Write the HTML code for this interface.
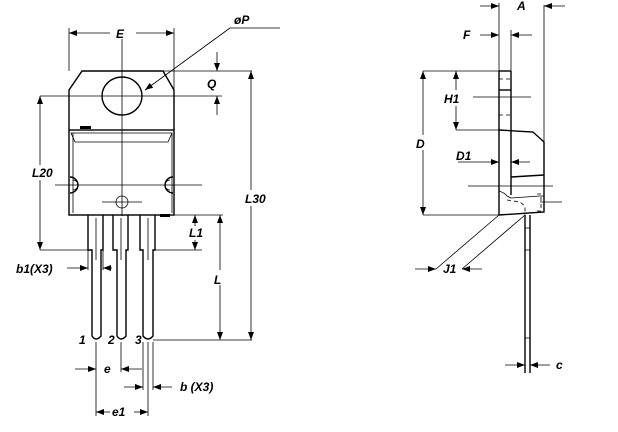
<!DOCTYPE html>
<html><head><meta charset="utf-8"><style>
html,body{margin:0;padding:0;background:#fff;}
svg{display:block;}
text{font-family:"Liberation Sans",sans-serif;font-style:italic;font-weight:bold;font-size:12px;fill:#000;}
.o{stroke:#000;stroke-width:1.4;fill:none;}
.d{stroke:#000;stroke-width:0.8;fill:none;}
.h{stroke:#000;stroke-width:0.8;fill:none;stroke-dasharray:4,3;}
</style></head><body>
<svg width="618" height="432" viewBox="0 0 618 432" xmlns="http://www.w3.org/2000/svg">
<defs><marker id="a" markerWidth="8" markerHeight="6" refX="8" refY="3" orient="auto" markerUnits="userSpaceOnUse"><path d="M0,0 L8,3 L0,6 z" fill="#000"/></marker></defs>

<!-- FRONT VIEW -->
<path class="o" d="M69,130 L69,90 L82,71 L163,71 L174,90 L174,130"/>
<rect class="o" x="69" y="130" width="105" height="85"/>
<line class="d" x1="73" y1="133" x2="73" y2="213"/>
<line class="d" x1="172" y1="133" x2="172" y2="213"/>
<path class="d" d="M71,133 L172,133 L168,142 L75,142 Z"/>
<rect x="80" y="126" width="11" height="3" fill="#000"/>
<rect x="160" y="214" width="10" height="3" fill="#000"/>
<ellipse class="o" cx="122" cy="96" rx="20" ry="19"/>
<path class="o" d="M70,177 A8,8 0 0 1 70,193"/>
<path class="d" d="M73,180 A5,5 0 0 1 73,190"/>
<path class="o" d="M173,177 A8,8 0 0 0 173,193"/>
<path class="d" d="M170,180 A5,5 0 0 0 170,190"/>
<circle class="d" cx="122" cy="202" r="6"/>
<line class="d" x1="102" y1="202" x2="142" y2="202"/>
<line class="d" x1="122" y1="27" x2="122" y2="216"/>
<line class="d" x1="55" y1="185" x2="202" y2="185"/>
<!-- leads -->
<g class="o">
<path d="M88,215 L88,250 L92,250 L92,336 Q96,342 101,336 L101,250 L103,250 L103,215"/>
<path d="M113,215 L113,250 L117,250 L117,336 Q121,342 126,336 L126,250 L128,250 L128,215"/>
<path d="M140,215 L140,250 L143,250 L143,336 Q148,342 153,336 L153,250 L155,250 L155,215"/>
</g>
<line class="d" x1="96" y1="218" x2="96" y2="260"/>
<line class="d" x1="121" y1="218" x2="121" y2="260"/>
<line class="d" x1="148" y1="218" x2="148" y2="260"/>
<text x="79" y="344" font-size="9">1</text>
<text x="108" y="344" font-size="9">2</text>
<text x="135" y="344" font-size="9">3</text>
<!-- E -->
<line class="d" x1="69" y1="28" x2="69" y2="71"/><line class="d" x1="174" y1="28" x2="174" y2="90"/>
<line class="d" x1="110" y1="33" x2="69" y2="33" marker-end="url(#a)"/>
<line class="d" x1="136" y1="33" x2="174" y2="33" marker-end="url(#a)"/>
<rect x="113" y="27" width="16" height="12" fill="#fff"/>
<text x="116" y="38">E</text>
<!-- øP -->
<line class="d" x1="280" y1="28" x2="230" y2="28"/>
<line class="d" x1="230" y1="28" x2="145" y2="90" marker-end="url(#a)"/>
<text x="234" y="24">øP</text>
<!-- Q -->
<line class="d" x1="163" y1="71" x2="252" y2="71"/>
<line class="d" x1="40" y1="96" x2="222" y2="96"/>
<line class="d" x1="217" y1="52" x2="217" y2="71" marker-end="url(#a)"/>
<line class="d" x1="217" y1="115" x2="217" y2="96" marker-end="url(#a)"/>
<text x="207" y="88">Q</text>
<!-- L20 -->
<line class="d" x1="40" y1="165" x2="40" y2="96" marker-end="url(#a)"/>
<line class="d" x1="40" y1="180" x2="40" y2="250" marker-end="url(#a)"/>
<line class="d" x1="40" y1="250" x2="88" y2="250"/>
<text x="32" y="177">L20</text>
<!-- L30 -->
<line class="d" x1="251" y1="190" x2="251" y2="71" marker-end="url(#a)"/>
<line class="d" x1="251" y1="206" x2="251" y2="340" marker-end="url(#a)"/>
<text x="245" y="203">L30</text>
<!-- L1, L -->
<line class="d" x1="174" y1="215" x2="223" y2="215"/>
<line class="d" x1="155" y1="250" x2="202" y2="250"/>
<line class="d" x1="153" y1="340" x2="252" y2="340"/>
<line class="d" x1="195" y1="226" x2="195" y2="215" marker-end="url(#a)"/>
<line class="d" x1="195" y1="240" x2="195" y2="250" marker-end="url(#a)"/>
<text x="189" y="237">L1</text>
<line class="d" x1="220" y1="270" x2="220" y2="215" marker-end="url(#a)"/>
<line class="d" x1="220" y1="285" x2="220" y2="340" marker-end="url(#a)"/>
<text x="214" y="284">L</text>
<!-- b1 -->
<line class="d" x1="88" y1="250" x2="88" y2="270"/>
<line class="d" x1="103" y1="250" x2="103" y2="270"/>
<line class="d" x1="67" y1="268" x2="88" y2="268" marker-end="url(#a)"/>
<line class="d" x1="112" y1="268" x2="103" y2="268" marker-end="url(#a)"/>
<text x="16" y="273">b1(X3)</text>
<!-- e -->
<line class="d" x1="96" y1="342" x2="96" y2="416"/>
<line class="d" x1="121" y1="342" x2="121" y2="372"/>
<line class="d" x1="143" y1="342" x2="143" y2="390"/>
<line class="d" x1="148" y1="342" x2="148" y2="416"/>
<line class="d" x1="153" y1="342" x2="153" y2="390"/>
<line class="d" x1="75" y1="369" x2="96" y2="369" marker-end="url(#a)"/>
<line class="d" x1="142" y1="369" x2="121" y2="369" marker-end="url(#a)"/>
<text x="104" y="373">e</text>
<line class="d" x1="124" y1="387" x2="143" y2="387" marker-end="url(#a)"/>
<line class="d" x1="172" y1="387" x2="153" y2="387" marker-end="url(#a)"/>
<text x="180" y="391">b  (X3)</text>
<line class="d" x1="110" y1="412" x2="96" y2="412" marker-end="url(#a)"/>
<line class="d" x1="134" y1="412" x2="148" y2="412" marker-end="url(#a)"/>
<text x="112" y="416">e1</text>

<!-- SIDE VIEW -->
<line class="o" x1="499" y1="71" x2="499" y2="215"/>
<line class="o" x1="511" y1="71" x2="511" y2="195"/>
<line class="o" x1="499" y1="71" x2="511" y2="71"/>
<line class="o" x1="499" y1="90" x2="511" y2="90"/>
<line class="h" x1="499" y1="79" x2="511" y2="79"/>
<line class="h" x1="499" y1="115" x2="511" y2="115"/>
<path class="o" d="M499,130 L533,132 L544,142 L544,212 L499,215"/>
<line class="o" x1="511" y1="177" x2="544" y2="175"/>
<path class="d" d="M499,191 Q505,193 507,196 L511,198 L540,196 L544,196"/>
<path class="h" d="M507,200 L520,202 L525,206 L525,215"/>
<path class="h" d="M537,194 L541,194 L541,211 L536,211"/>
<line class="d" x1="544" y1="5" x2="544" y2="142"/>
<line class="d" x1="499" y1="3" x2="499" y2="71"/>
<line class="d" x1="511" y1="30" x2="511" y2="71"/>
<line class="d" x1="480" y1="6" x2="499" y2="6" marker-end="url(#a)"/>
<line class="d" x1="565" y1="6" x2="544" y2="6" marker-end="url(#a)"/>
<text x="517" y="10">A</text>
<line class="d" x1="480" y1="35" x2="499" y2="35" marker-end="url(#a)"/>
<line class="d" x1="532" y1="35" x2="511" y2="35" marker-end="url(#a)"/>
<text x="463" y="39">F</text>
<line class="d" x1="423" y1="71" x2="499" y2="71"/>
<line class="d" x1="423" y1="215" x2="499" y2="215"/>
<line class="d" x1="423" y1="135" x2="423" y2="71" marker-end="url(#a)"/>
<line class="d" x1="423" y1="150" x2="423" y2="215" marker-end="url(#a)"/>
<text x="416" y="148">D</text>
<line class="d" x1="456" y1="130" x2="499" y2="130"/>
<line class="d" x1="456" y1="90" x2="456" y2="71" marker-end="url(#a)"/>
<line class="d" x1="456" y1="106" x2="456" y2="130" marker-end="url(#a)"/>
<text x="444" y="103">H1</text>
<line class="d" x1="473" y1="97" x2="531" y2="97"/>
<line class="d" x1="458" y1="162" x2="499" y2="162" marker-end="url(#a)"/>
<line class="d" x1="530" y1="162" x2="511" y2="162" marker-end="url(#a)"/>
<text x="456" y="160">D1</text>
<line class="d" x1="468" y1="186" x2="553" y2="186"/>
<line class="d" x1="540" y1="202" x2="562" y2="202"/>
<!-- side lead -->
<line class="o" x1="525" y1="215" x2="525" y2="373"/>
<line class="o" x1="530" y1="215" x2="530" y2="373"/>
<line class="d" x1="525" y1="228" x2="530" y2="228"/>
<line class="d" x1="525" y1="250" x2="530" y2="250"/>
<line class="d" x1="525" y1="338" x2="530" y2="338"/>
<line class="d" x1="505" y1="365" x2="525" y2="365" marker-end="url(#a)"/>
<line class="d" x1="550" y1="365" x2="530" y2="365" marker-end="url(#a)"/>
<text x="556" y="369">c</text>
<!-- J1 -->
<line class="d" x1="499" y1="215" x2="436" y2="269"/>
<line class="d" x1="525" y1="215" x2="462" y2="269"/>
<line class="d" x1="415" y1="269" x2="436" y2="269" marker-end="url(#a)"/>
<line class="d" x1="482" y1="269" x2="462" y2="269" marker-end="url(#a)"/>
<text x="443" y="273">J1</text>
</svg>
</body></html>
